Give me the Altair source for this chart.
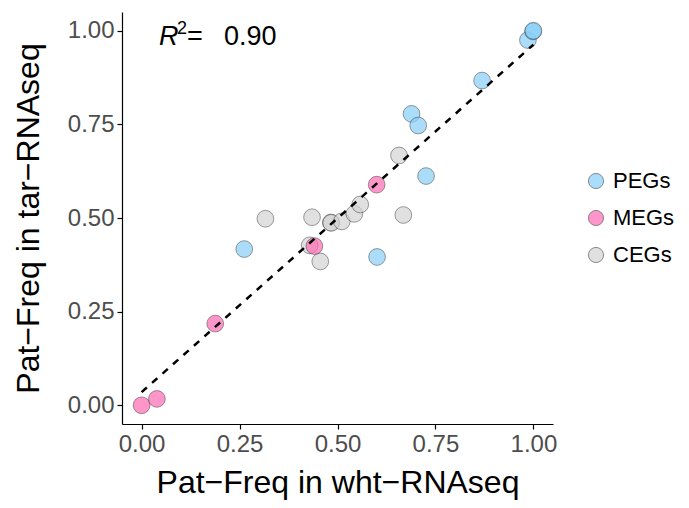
import altair as alt
import pandas as pd

# data
peg_x = [0.262, 0.601, 0.726, 0.689, 0.706, 0.869, 0.986, 0.999, 1.000]
peg_y = [0.417, 0.396, 0.612, 0.778, 0.747, 0.867, 0.975, 0.998, 1.000]
meg_x = [0.000, 0.039, 0.188, 0.441, 0.600]
meg_y = [0.000, 0.017, 0.218, 0.425, 0.589]
ceg_x = [0.316, 0.435, 0.429, 0.456, 0.483, 0.484, 0.511, 0.543, 0.558, 0.657, 0.668]
ceg_y = [0.498, 0.502, 0.427, 0.384, 0.488, 0.487, 0.491, 0.511, 0.536, 0.667, 0.508]
groups = ["PEGs", "MEGs", "CEGs"]
colors = ["#87CEFA", "#FF69B4", "#D3D3D3"]
r2_label = "0.90"

rows = []
for x, y in zip(ceg_x, ceg_y):
    rows.append({"x": x, "y": y, "g": "CEGs"})
for x, y in zip(peg_x, peg_y):
    rows.append({"x": x, "y": y, "g": "PEGs"})
for x, y in zip(meg_x, meg_y):
    rows.append({"x": x, "y": y, "g": "MEGs"})
df = pd.DataFrame(rows)
one = pd.DataFrame({"t": [r2_label]})

FONT = "Liberation Sans"
xs = alt.Scale(domain=[-0.05, 1.05], nice=False, zero=False)
ys = alt.Scale(domain=[-0.05, 1.05], nice=False, zero=False)
ticks = [0, 0.25, 0.5, 0.75, 1.0]

base = alt.Chart(df)

points = base.mark_point(
    shape="circle", filled=True, size=280, fillOpacity=0.7,
    stroke="#333333", strokeOpacity=0.6, strokeWidth=0.8
).encode(
    x=alt.X("x:Q", scale=xs, title="Pat\u2212Freq in wht\u2212RNAseq",
            axis=alt.Axis(values=ticks, format=".2f")),
    y=alt.Y("y:Q", scale=ys, title="Pat\u2212Freq in tar\u2212RNAseq",
            axis=alt.Axis(values=ticks, format=".2f")),
    fill=alt.Fill("g:N", scale=alt.Scale(domain=groups, range=colors),
                  legend=alt.Legend(title=None, orient="none", legendX=463, legendY=158)),
)

line = base.transform_regression("x", "y", extent=[0, 1]).mark_line(
    color="black", strokeDash=[7, 7], strokeWidth=2.5
).encode(x=alt.X("x:Q", scale=xs), y=alt.Y("y:Q", scale=ys))

tc = alt.Chart(one)
txt_r = tc.mark_text(
    text="R", font=FONT, fontSize=27, fontStyle="italic", align="left", baseline="alphabetic"
).encode(x=alt.value(37), y=alt.value(33))
txt_2 = tc.mark_text(
    text="2", font=FONT, fontSize=18, align="left", baseline="alphabetic"
).encode(x=alt.value(55), y=alt.value(22))
txt_eq = tc.mark_text(
    text="=", font=FONT, fontSize=27, align="left", baseline="alphabetic"
).encode(x=alt.value(65), y=alt.value(33))
txt_v = tc.mark_text(
    font=FONT, fontSize=27, align="left", baseline="alphabetic"
).encode(x=alt.value(102), y=alt.value(33), text="t:N")

chart = alt.layer(points, line, txt_r, txt_2, txt_eq, txt_v).properties(
    width=431, height=412,
    autosize=alt.AutoSizeParams(type="none"),
    padding={"left": 114, "top": 4, "right": 128, "bottom": 76},
).configure_view(stroke=None).configure_axis(
    grid=False, domainColor="black", domainWidth=1.2, tickColor="black", tickWidth=1.2,
    tickSize=5, labelFont=FONT, labelFontSize=24, labelColor="#4D4D4D",
    titleFont=FONT, titleFontSize=32, titleFontWeight="normal", titleColor="black",
    labelPadding=3
).configure_axisX(titlePadding=11).configure_axisY(titlePadding=22).configure_legend(
    labelFont=FONT, labelFontSize=22, labelColor="black", symbolSize=230,
    symbolStrokeColor="#333333", symbolStrokeWidth=0.8, symbolOpacity=0.7,
    rowPadding=15, labelOffset=6, padding=0
)

chart.save("out.html", embed_options={"renderer": "svg", "actions": False})
